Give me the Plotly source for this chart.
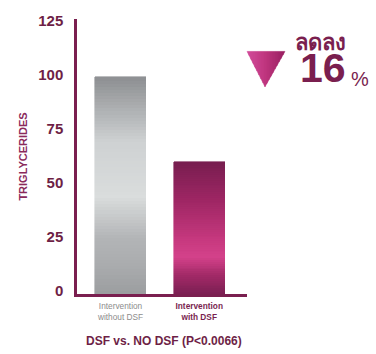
import plotly.graph_objects as go
import numpy as np

categories = ["Intervention<br>without DSF", "Intervention<br>with DSF"]
values = [100, 61]
y_ticks = [0, 25, 50, 75, 100, 125]

W, H = 376, 354
L, R, T, B = 77, 129, 14, 60
pw, ph = W - L - R, H - T - B

def px(x):
    return (x - L) / pw

def py(y):
    return (H - B - y) / ph

def hex2rgb(h):
    h = h.lstrip("#")
    return np.array([int(h[i:i + 2], 16) for i in (0, 2, 4)], float)

def grad(stops, t):
    for (t0, c0), (t1, c1) in zip(stops[:-1], stops[1:]):
        if t0 <= t <= t1:
            f = (t - t0) / (t1 - t0) if t1 > t0 else 0
            c = hex2rgb(c0) * (1 - f) + hex2rgb(c1) * f
            return "rgb(%d,%d,%d)" % tuple(c)
    return stops[-1][1]

grey_stops = [(0, "#8e9093"), (0.3, "#cfd2d3"), (0.55, "#dadddd"), (0.75, "#b2b4b6"),
              (0.87, "#aaacae"), (1, "#9c9ea0")]
mag_stops = [(0, "#781e50"), (0.3, "#a02765"), (0.6, "#c83a80"), (0.72, "#d4428b"),
             (0.86, "#a22a67"), (1, "#7c2053")]
tri_stops = [(0, "#d34d9b"), (0.5, "#bf367f"), (1, "#9a2062")]

N = 70
fig = go.Figure()
for i in range(N):
    t = 1 - (i + 0.5) / N  # fraction from top
    cols = [grad(grey_stops, t), grad(mag_stops, t)]
    fig.add_trace(go.Bar(
        x=[0, 1], y=[v / N for v in values], width=0.648,
        marker=dict(color=cols, line=dict(width=0.6, color=cols)),
        showlegend=False, hoverinfo="skip"))

axis_col = "#7a1f4f"
txt_col = "#6e1f46"
fig.update_layout(
    width=W, height=H, barmode="stack", bargap=0,
    margin=dict(l=L, r=R, t=T, b=B),
    paper_bgcolor="white", plot_bgcolor="white",
    font=dict(family="Liberation Sans, Arial", color=txt_col),
    xaxis=dict(range=[-0.553, 1.607], tickvals=[0, 1],
               ticktext=["<span style='color:#8c8c8c'>%s</span>" % categories[0],
                         "<span style='color:#7a1f4f'><b>%s</b></span>" % categories[1]],
               tickfont=dict(size=8.3), showgrid=False, zeroline=False,
               showline=True, linecolor=axis_col, linewidth=2.5, ticks="", ticklabelstandoff=2),
    yaxis=dict(range=[0, 127], tickvals=y_ticks, showgrid=False, zeroline=False,
               showline=True, linecolor=axis_col, linewidth=2.5, ticks="",
               tickfont=dict(size=15, color=txt_col, weight="bold"),
               ticklabelstandoff=8, ticklabelshift=-3,
               title=dict(text="<b>TRIGLYCERIDES</b>", font=dict(size=11, color="#8a2a5c"), standoff=9)),
)

fig.add_annotation(text="<b>DSF vs. NO DSF (P<0.0066)</b>", xref="paper", yref="paper",
                   x=px(164), y=py(342), xanchor="center", yanchor="middle",
                   showarrow=False, font=dict(size=12, color=txt_col))

# down-pointing triangle with a left-to-right gradient, drawn as vertical strips
tl, tr, ap = (247.0, 47.0), (285.0, 47.0), (265.0, 83.0)

def ybot(x):
    if x <= ap[0]:
        return tl[1] + (ap[1] - tl[1]) * (x - tl[0]) / (ap[0] - tl[0])
    return ap[1] + (tr[1] - ap[1]) * (x - ap[0]) / (tr[0] - ap[0])

M = 19
xs = sorted(set(list(np.linspace(tl[0], tr[0], M + 1)) + [ap[0]]))
for x0, x1 in zip(xs[:-1], xs[1:]):
    pts = [(x0, tl[1]), (x1, tl[1]), (x1, ybot(x1)), (x0, ybot(x0))]
    path = "M " + " L ".join("%f %f" % (px(a), py(b)) for a, b in pts) + " Z"
    c = grad(tri_stops, ((x0 + x1) / 2 - tl[0]) / (tr[0] - tl[0]))
    fig.add_shape(type="path", path=path, xref="paper", yref="paper",
                  fillcolor=c, line=dict(width=0.5, color=c))

fig.add_annotation(text="<b>ลดลง</b>", xref="paper", yref="paper", x=px(293), y=py(38),
                   xanchor="left", yanchor="middle", showarrow=False,
                   font=dict(size=22, color=axis_col))
fig.add_annotation(text="<b>16</b>", xref="paper", yref="paper", x=px(298), y=py(64),
                   xanchor="left", yanchor="middle", showarrow=False,
                   font=dict(size=41, color=axis_col))
fig.add_annotation(text="%", xref="paper", yref="paper", x=px(349), y=py(75),
                   xanchor="left", yanchor="middle", showarrow=False,
                   font=dict(size=20, color=axis_col))

fig.write_html("out.html")
